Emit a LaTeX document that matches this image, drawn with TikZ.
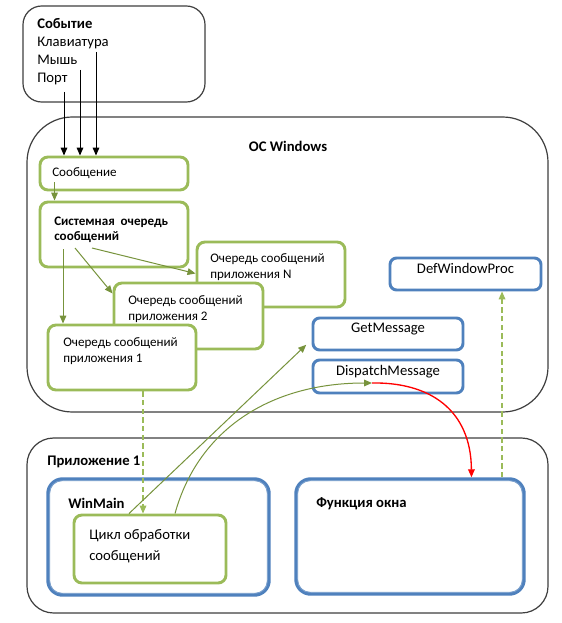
\documentclass[tikz,border=0pt]{standalone}
\usepackage{fontspec}
\setmainfont{Carlito}
\usetikzlibrary{positioning,fit,arrows.meta}

\definecolor{olivegreen}{HTML}{9BBB59}
\definecolor{arrowgreen}{HTML}{77933C}
\definecolor{steelblue}{HTML}{4F81BD}
\definecolor{framegrey}{HTML}{3F3F3F}

\tikzset{
  outerframe/.style={draw=framegrey, line width=0.9pt, fill=white, inner sep=0pt},
  greenbox/.style={draw=olivegreen, line width=2.2pt, rounded corners=6pt, fill=white, inner sep=0pt},
  bluebox/.style={draw=steelblue, line width=2.2pt, rounded corners=5pt, fill=white, inner sep=0pt, font=\fontsize{11}{13}\selectfont},
  dblbox/.style={draw=steelblue, line width=2.6pt, rounded corners=11pt, fill=white, inner sep=0pt},
  dblinner/.style={draw=steelblue!75, line width=0.7pt, rounded corners=9pt},
  txt/.style={anchor=base west, inner sep=0pt, align=left},
  smalltext/.style={font=\fontsize{9.8}{11.8}\selectfont},
  bigtext/.style={font=\fontsize{11}{13.5}\selectfont},
  headtext/.style={inner sep=0pt, font=\fontsize{11}{13}\selectfont\bfseries},
  blackarrow/.style={-{Triangle[length=6pt,width=5pt]}, line width=0.75pt},
  greenarrow/.style={draw=arrowgreen, -{Triangle[length=6pt,width=5pt]}, line width=0.75pt},
  dasharrow/.style={draw=olivegreen, dashed, dash pattern=on 4pt off 2.5pt, -{Triangle[length=6pt,width=5pt]}, line width=0.9pt},
  redarrow/.style={draw=red, -{Triangle[length=6pt,width=5pt]}, line width=1pt}
}

\begin{document}
\begin{tikzpicture}[x=0.75pt, y=-0.75pt]
  \useasboundingbox (0,0) rectangle (561,623);

  % event source
  \node[outerframe, rounded corners=14pt, fit={(23,6) (205,102)}] (event) {};
  \node[txt, bigtext] (evtxt) at (37,83) {\textbf{Событие}\\Клавиатура\\Мышь\\Порт};
  \coordinate (kbd) at (96,52);
  \coordinate (mouse) at (80,70);
  \coordinate (port) at (64,92);

  % operating system
  \node[outerframe, rounded corners=34pt, fit={(27,117) (548,412)}] (os) {};
  \node[headtext] (ostitle) at (288,146) {ОС Windows};

  \node[greenbox, fit={(40,157) (188,190)}] (msg) {};
  \node[txt, smalltext] (msgtxt) at (52,177) {Сообщение};

  \node[greenbox, fit={(40,202) (188,267)}] (sysq) {};
  \node[txt, font=\fontsize{9.8}{12}\selectfont\bfseries] (sysqtxt) at (54,241) {Системная\ \ очередь\\сообщений};

  \node[greenbox, fit={(197,242) (345,307)}] (qN) {};
  \node[txt, smalltext] (qNtxt) at (210,278) {Очередь сообщений\\приложения N};

  \node[greenbox, fit={(114,283) (263,349)}] (q2) {};
  \node[txt, smalltext] (q2txt) at (128,320) {Очередь сообщений\\приложения 2};

  \node[greenbox, fit={(48,325) (196,390)}] (q1) {};
  \node[txt, smalltext] (q1txt) at (63,362) {Очередь сообщений\\приложения 1};

  \node[bluebox, fit={(390,258) (541,290)}] (defproc) {DefWindowProc};
  \node[bluebox, fit={(313,318) (463,350)}] (getmsg) {GetMessage};
  \node[bluebox, fit={(313,360) (463,393)}] (dispmsg) {DispatchMessage};

  % application
  \node[outerframe, rounded corners=20pt, fit={(27,438) (548,613)}] (app) {};
  \node[headtext, anchor=base west] (apptitle) at (47,465) {Приложение 1};

  \node[dblbox, fit={(48,479) (269,595)}] (winmain) {};
  \draw[dblinner] ([shift={(2.6pt,-2.6pt)}]winmain.north west) rectangle ([shift={(-2.6pt,2.6pt)}]winmain.south east);
  \node[headtext, anchor=base west] (wmtitle) at (68,508) {WinMain};

  \node[dblbox, fit={(296,479) (524,594)}] (wndfunc) {};
  \draw[dblinner] ([shift={(2.6pt,-2.6pt)}]wndfunc.north west) rectangle ([shift={(-2.6pt,2.6pt)}]wndfunc.south east);
  \node[headtext, anchor=base west] (wftitle) at (316,507) {Функция окна};

  \node[greenbox, fit={(74,515) (226,583)}] (loop) {};
  \node[txt, font=\fontsize{11}{15.75}\selectfont] (looptxt) at (89,560) {Цикл обработки\\сообщений};

  % connectors
  \draw[blackarrow] (port) -- (port |- msg.north);
  \draw[blackarrow] (mouse) -- (mouse |- msg.north);
  \draw[blackarrow] (kbd) -- (kbd |- msg.north);

  \coordinate (m1) at ([xshift=12pt]msg.south west);
  \draw[greenarrow] ([yshift=7pt]m1) -- (m1 |- sysq.north);

  \coordinate (s1) at (63,249);
  \coordinate (s2) at (75,248);
  \coordinate (s3) at (92,248);
  \draw[greenarrow] (s1) -- (s1 |- q1.north);
  \draw[greenarrow] (s2) -- ([yshift=-9pt]q2.north west);
  \draw[greenarrow] (s3) -- ([yshift=-24.75pt]qN.north west);

  \coordinate (d1) at ([xshift=15.75pt]q1.south);
  \draw[dasharrow] (d1) -- (d1 |- loop.north);
  \coordinate (d2) at ([xshift=27.4pt]defproc.south);
  \draw[dasharrow] (d2 |- wndfunc.north) -- (d2);

  \coordinate (l1) at ([xshift=-15.75pt]loop.north);
  \coordinate (l2) at ([xshift=18.75pt]loop.north);
  \draw[greenarrow] (l1) -- ([shift={(-4pt,5pt)}]getmsg.south west);
  \coordinate (dm) at (372,383);
  \draw[greenarrow] (l2) .. controls (198,430) and (270,383) .. (dm);
  \coordinate (w1) at ([xshift=46.1pt]wndfunc.north);
  \draw[redarrow] (dm) .. controls (430,382) and (471,410) .. (w1);
\end{tikzpicture}
\end{document}
